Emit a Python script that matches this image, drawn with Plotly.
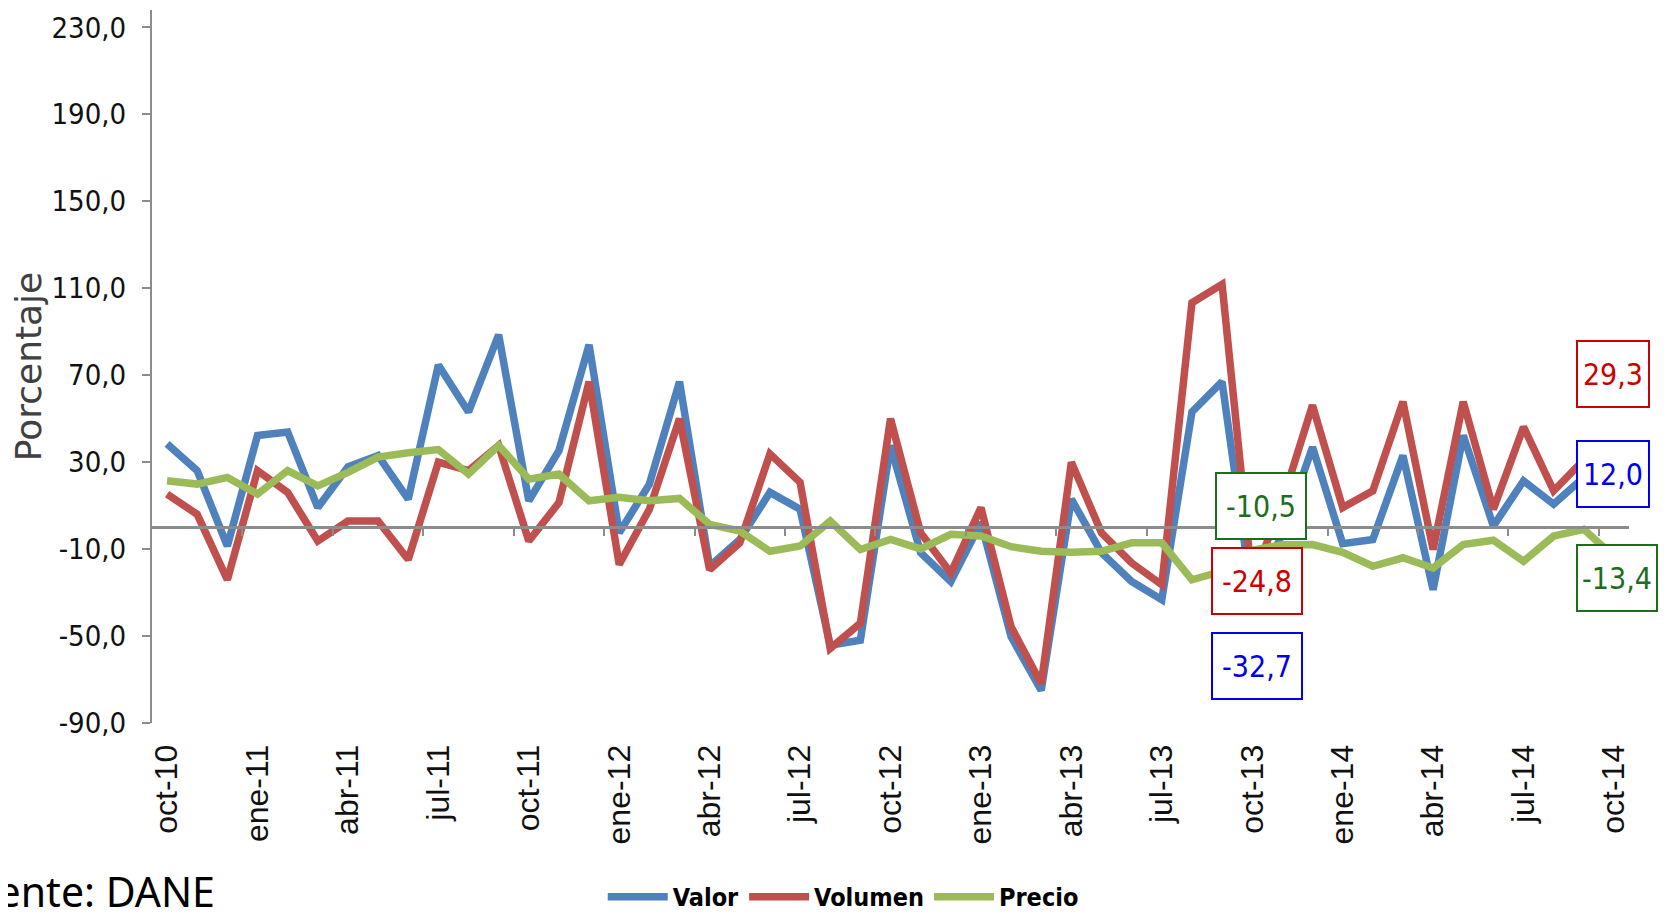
import plotly.graph_objects as go

# ---------------- data ----------------
months = [
    "oct-10", "nov-10", "dic-10", "ene-11", "feb-11", "mar-11", "abr-11", "may-11", "jun-11",
    "jul-11", "ago-11", "sep-11", "oct-11", "nov-11", "dic-11", "ene-12", "feb-12", "mar-12",
    "abr-12", "may-12", "jun-12", "jul-12", "ago-12", "sep-12", "oct-12", "nov-12", "dic-12",
    "ene-13", "feb-13", "mar-13", "abr-13", "may-13", "jun-13", "jul-13", "ago-13", "sep-13",
    "oct-13", "nov-13", "dic-13", "ene-14", "feb-14", "mar-14", "abr-14", "may-14", "jun-14",
    "jul-14", "ago-14", "sep-14", "oct-14",
]

valor = [
    38.4, 26.1, -8.6, 42.3, 43.9, 9.1, 27.8, 33.0, 13.0,
    74.7, 53.1, 88.6, 12.2, 35.3, 84.0, -2.5, 19.9, 67.0,
    -17.9, -5.6, 16.1, 8.3, -54.2, -51.9, 37.7, -11.7, -24.9,
    2.2, -50.3, -75.0, 13.0, -11.7, -24.9, -33.3, 53.1, 67.0,
    -32.7, -3.0, 36.9, -7.5, -5.6, 33.0, -28.7, 42.3, 0.6,
    21.4, 10.7, 23.0, 12.0,
]

volumen = [
    15.3, 6.0, -24.1, 26.1, 16.1, -6.3, 2.9, 2.9, -14.8,
    30.0, 26.1, 37.7, -6.3, 11.4, 67.0, -17.1, 8.3, 50.0,
    -19.5, -7.1, 33.8, 20.7, -55.7, -44.1, 50.0, -2.5, -21.0,
    9.1, -45.7, -71.9, 30.0, -2.5, -16.4, -26.4, 103.3, 111.8,
    -24.8, 12.0, 56.2, 9.1, 16.8, 57.8, -10.2, 57.8, 8.3,
    46.2, 16.8, 31.0, 29.3,
]

precio = [
    21.4, 19.9, 23.0, 15.3, 26.1, 19.1, 25.3, 32.3, 34.3,
    35.8, 24.5, 37.7, 22.2, 24.5, 12.2, 13.8, 12.2, 13.3,
    1.4, -1.7, -11.0, -8.6, 2.9, -10.2, -5.6, -9.9, -3.2,
    -4.0, -8.9, -11.0, -11.4, -11.0, -7.1, -7.1, -24.1, -20.2,
    -10.5, -8.0, -7.9, -11.5, -17.9, -14.0, -18.7, -7.9, -5.9,
    -15.6, -4.0, -0.9, -13.4,
]

x_tick_labels = months[::3]
y_ticks = [-90, -50, -10, 30, 70, 110, 150, 190, 230]
y_tick_labels = ["-90,0", "-50,0", "-10,0", "30,0", "70,0", "110,0", "150,0", "190,0", "230,0"]

# value labels shown in boxes: (month, value, text, colour)
box_labels = [
    ("oct-13", -10.5, "-10,5", "#1B6E1B"),
    ("oct-13", -24.8, "-24,8", "#CC0000"),
    ("oct-13", -32.7, "-32,7", "#0000EE"),
    ("oct-14", 29.3, "29,3", "#CC0000"),
    ("oct-14", 12.0, "12,0", "#0000EE"),
    ("oct-14", -13.4, "-13,4", "#1B6E1B"),
]

# ---------------- styling ----------------
Y_MIN, Y_MAX = -90, 238
BLUE, RED, GREEN = "#4F81BD", "#C0504D", "#9BBB59"
NARROW = "DejaVu Sans Condensed, DejaVu Sans, sans-serif"
LW = 7.5

fig = go.Figure()
fig.add_trace(go.Scatter(x=months, y=valor, name="Valor", mode="lines",
                         line=dict(color=BLUE, width=LW)))
fig.add_trace(go.Scatter(x=months, y=volumen, name="Volumen", mode="lines",
                         line=dict(color=RED, width=LW)))
fig.add_trace(go.Scatter(x=months, y=precio, name="Precio", mode="lines",
                         line=dict(color=GREEN, width=LW)))
# helper trace so the zero-crossing axis (x2) is drawn
fig.add_trace(go.Scatter(x=[], y=[], xaxis="x2", yaxis="y", showlegend=False,
                         hoverinfo="skip"))

# box placement offsets in pixels (positive = up)
box_shift = {"-10,5": 44, "-24,8": 0, "-32,7": -68, "29,3": 90, "12,0": 27, "-13,4": -22}
box_xshift = {"-10,5": 9, "-24,8": 5, "-32,7": 5, "29,3": -1, "12,0": -1, "-13,4": 3}
box_w = {"-10,5": 86, "-24,8": 86, "-32,7": 86, "29,3": 68, "12,0": 68, "-13,4": 76}

for m, v, txt, col in box_labels:
    fig.add_annotation(
        x=m, y=v, xref="x", yref="y", text=txt, showarrow=False,
        xshift=box_xshift[txt], yshift=box_shift[txt],
        font=dict(family=NARROW, size=30, color=col),
        bordercolor=col, borderwidth=2, bgcolor="white",
        width=box_w[txt], height=62, align="center", valign="middle",
    )

# source note, partially cut at the left edge
fig.add_annotation(
    text="Fuente: DANE", xref="paper", yref="paper", x=65 / 1477, y=-0.236,
    xanchor="right", yanchor="middle", showarrow=False,
    font=dict(family="Noto Sans, Liberation Sans, sans-serif", size=41, color="black"),
)

zero_pos = (0 - Y_MIN) / (Y_MAX - Y_MIN)
zero_ticks = [i - 0.5 for i in range(3, len(months), 3)]

# the page body adds an 8 px offset, so the figure is 8 px smaller than the window
fig.update_layout(
    width=1659, height=908,
    margin=dict(l=144, r=38, t=2, b=193, autoexpand=False),
    paper_bgcolor="white", plot_bgcolor="white",
    showlegend=True,
    legend=dict(orientation="h", x=0.468, xanchor="center", y=-0.244, yanchor="middle",
                font=dict(family=NARROW, size=25, color="black", weight="bold"),
                itemwidth=60, traceorder="normal"),
    xaxis=dict(
        type="category", range=[-0.5, len(months) - 0.5], automargin=False,
        tickmode="array", tickvals=x_tick_labels, ticktext=x_tick_labels,
        tickangle=-90, ticks="outside", ticklen=8, tickcolor="rgba(0,0,0,0)",
        tickfont=dict(family="Liberation Sans, Arial, sans-serif", size=32, color="#111111"),
        showline=False, showgrid=False, zeroline=False,
    ),
    xaxis2=dict(
        overlaying="x", anchor="free", position=zero_pos, side="bottom", automargin=False,
        range=[-0.5, len(months) - 0.5], showgrid=False, zeroline=False,
        showline=True, linecolor="#8C8C8C", linewidth=3,
        tickmode="array", tickvals=zero_ticks, ticks="outside", ticklen=7,
        tickwidth=2, tickcolor="#8C8C8C", showticklabels=False,
    ),
    yaxis=dict(
        range=[Y_MIN, Y_MAX], tickmode="array", tickvals=y_ticks, ticktext=y_tick_labels,
        ticks="outside", ticklen=8, tickwidth=2, tickcolor="#8C8C8C", automargin=False,
        ticklabelstandoff=10,
        showline=True, linecolor="#8C8C8C", linewidth=2,
        showgrid=False, zeroline=False,
        tickfont=dict(family=NARROW, size=29, color="#111111"),
        title=dict(text="Porcentaje", standoff=18,
                   font=dict(family="DejaVu Sans, sans-serif", size=36, color="#404040")),
    ),
)

fig.write_html("out.html")
